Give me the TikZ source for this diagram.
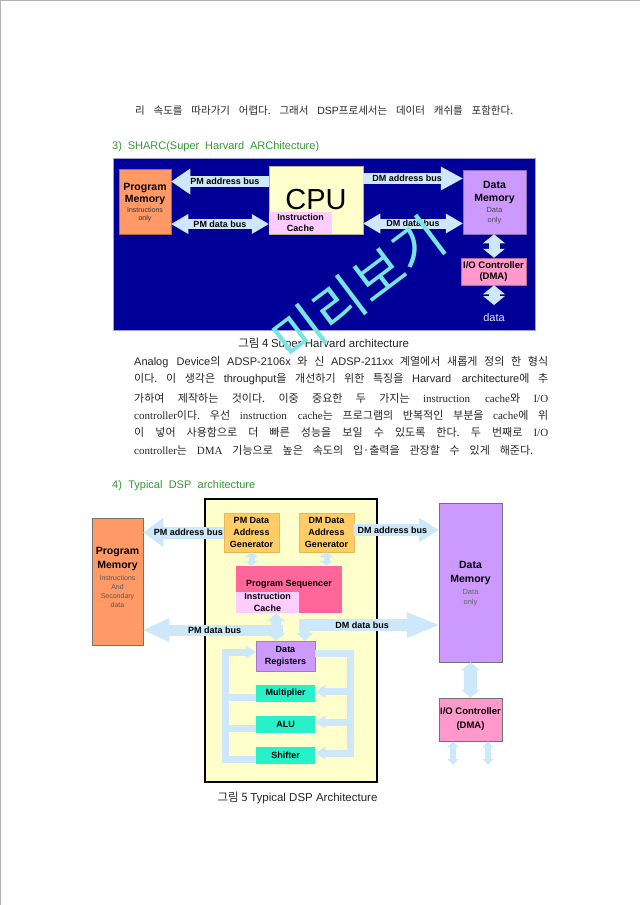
\documentclass[tikz,border=0pt]{standalone}
\usepackage{fontspec}
\setmainfont{Noto Sans CJK KR}
\setsansfont{Liberation Sans}
\newfontfamily\tms{Liberation Serif}
\usetikzlibrary{positioning, arrows.meta}

\definecolor{navy}{RGB}{0,0,153}
\definecolor{frameline}{RGB}{160,160,210}
\definecolor{memorange}{RGB}{255,153,102}
\definecolor{cpuyellow}{RGB}{255,255,204}
\definecolor{cachepink}{RGB}{255,204,255}
\definecolor{mempurple}{RGB}{204,153,255}
\definecolor{iopink}{RGB}{255,153,204}
\definecolor{busblue}{RGB}{204,232,250}
\definecolor{dagorange}{RGB}{255,204,102}
\definecolor{seqpink}{RGB}{255,102,153}
\definecolor{unitteal}{RGB}{40,240,200}
\definecolor{headgreen}{RGB}{51,153,51}
\definecolor{markcyan}{RGB}{120,228,228}
\definecolor{datawhite}{RGB}{225,225,255}

\newcommand{\fs}[2]{\fontsize{#1}{#2}\selectfont}
\newcommand{\jline}[2]{\makebox[#1pt][s]{#2}}
\newcommand{\la}[1]{{\sffamily #1}}

\tikzset{
  box/.style={draw=#1!70!black, line width=.5pt, fill=#1, inner sep=0pt, align=center,
    font=\sffamily\bfseries\fs{9}{12}},
  lbl/.style={inner sep=0pt, align=center, font=\sffamily\bfseries\fs{9}{12}},
  note/.style={inner sep=0pt, align=center, font=\sffamily\fs{7}{8}, text=black!75},
  body/.style={inner sep=0pt, anchor=west, font=\fs{11}{12}, text=black!85},
  sbus/.style n args={3}{draw=busblue, line width=#1,
    -{Triangle[length=#2,width=#3,line width=0pt]}},
  dbus/.style n args={3}{draw=busblue, line width=#1,
    {Triangle[length=#2,width=#3,line width=0pt]}-{Triangle[length=#2,width=#3,line width=0pt]}},
  ibus/.style={draw=busblue, line width=7pt},
  itip/.style={-{Triangle[length=10pt,width=13pt,line width=0pt]}}
}

\begin{document}
\frenchspacing
\begin{tikzpicture}[x=1pt, y=-1pt]
\useasboundingbox (0,0) rectangle (640,905);
\draw[gray!60, line width=1pt] (0.5,905) -- (0.5,0.5) -- (640,0.5);

\node[body, font=\fs{10.5}{12}] (l0) at (135,111) {\jline{378}{리 속도를 따라가기 어렵다. 그래서 \la{DSP}프로세서는 데이터 캐쉬를 포함한다.}};
\node[body, font=\sffamily\fs{11}{13}, text=headgreen] (h3) at (112,147) {\jline{207}{3) SHARC(Super Harvard ARChitecture)}};

% SHARC
\node[fill=navy, draw=frameline, line width=.8pt, minimum width=422pt, minimum height=172pt, inner sep=0pt] (sharc) at (324,244) {};
\node[box=memorange, minimum width=52pt, minimum height=65pt] (spm) at (145,201.5) {};
\node[lbl, font=\sffamily\bfseries\fs{10.5}{12.7}] (spmt) at (145,194) {Program\\Memory};
\node[note, text=black!80] (spmn) at (145,215) {Instructions\\only};
\node[box=cpuyellow, minimum width=94pt, minimum height=68pt, font=\sffamily\fs{29}{30}] (cpu) at (316,200) {CPU};
\node[box=cachepink, draw=none, minimum width=63pt, minimum height=22pt, font=\sffamily\bfseries\fs{9}{10.6}, anchor=south west] (sic) at (cpu.south west) {Instruction\\Cache};
\node[box=mempurple, minimum width=63pt, minimum height=64pt] (sdm) at (494.5,202) {};
\node[lbl, font=\sffamily\bfseries\fs{10.5}{12.7}] (sdmt) at (494.5,192.5) {Data\\Memory};
\node[note, font=\sffamily\fs{7.5}{9.5}, text=black!70] (sdmn) at (494.5,215.5) {Data\\only};
\node[box=iopink, minimum width=65pt, minimum height=27pt, font=\sffamily\bfseries\fs{9.5}{11.7}] (sio) at (493.5,271.5) {I/O Controller\\(DMA)};
\node[inner sep=0pt, font=\sffamily\fs{11}{12}, text=datawhite] (sdat) at (494,317.5) {data};

\coordinate (ya1) at (0,181.5);
\coordinate (yd1) at (0,224);
\coordinate (ya2) at (0,178.5);
\coordinate (yd2) at (0,223.5);
\coordinate (sdend) at (494,305);
\draw[sbus={11pt}{19pt}{26pt}] (cpu.west |- ya1) -- node[lbl, pos=.45] (pab) {PM address bus} (spm.east |- ya1);
\draw[dbus={10pt}{17pt}{20pt}] (spm.east |- yd1) -- node[lbl, pos=.5] (pdb) {PM data bus} (sic.west |- yd1);
\draw[sbus={11pt}{22pt}{24pt}] (cpu.east |- ya2) -- node[lbl, pos=.44] (dab) {DM address bus} (sdm.west |- ya2);
\draw[dbus={10pt}{17pt}{20pt}] (cpu.east |- yd2) -- node[lbl, pos=.5] (ddb) {DM data bus} (sdm.west |- yd2);
\draw[dbus={11pt}{9pt}{22pt}] (sdm.south -| sdend) -- (sio.north -| sdend);
\draw[dbus={11pt}{9pt}{22pt}] (sio.south -| sdend) -- (sdend);

\node[inner sep=0pt, font=\fs{11.5}{13}, text=black!85] (cap4) at (323.7,344) {그림 4 \la{Super Harvard architecture}};
\node[body] (p1) at (134,362.3) {\jline{414}{\la{Analog Device}의 \la{ADSP-2106x} 와 신 \la{ADSP-211xx} 계열에서 새롭게 정의 한 형식}};
\node[body] (p2) at (134,379.5) {\jline{414}{이다. 이 생각은 \la{throughput}을 개선하기 위한 특징을 \la{Harvard architecture}에 추}};
\node[body] (p3) at (134,398) {\jline{414}{가하여 제작하는 것이다. 이중 중요한 두 가지는 {\tms instruction cache}와 {\tms I/O}}};
\node[body] (p4) at (134,415.7) {\jline{414}{{\tms controller}이다. 우선 {\tms instruction cache}는 프로그램의 반복적인 부분을 {\tms cache}에 위}};
\node[body] (p5) at (134,432.7) {\jline{414}{이 넣어 사용함으로 더 빠른 성능을 보일 수 있도록 한다. 두 번째로 {\tms I/O}}};
\node[body] (p6) at (134,450.7) {\jline{399}{{\tms controller}는 {\tms DMA} 기능으로 높은 속도의 입·출력을 관장할 수 있게 해준다.}};

\node[body, font=\sffamily\fs{11}{13}, text=headgreen] (h4) at (112,486) {\jline{143}{4) Typical DSP architecture}};

% typical DSP
\node[box=memorange, draw=black!55, minimum width=51pt, minimum height=127pt] (dpm) at (117.5,581.5) {};
\node[lbl, font=\sffamily\bfseries\fs{10.5}{14}] (dpmt) at (117.5,559) {Program\\Memory};
\node[note, font=\sffamily\fs{7}{9}, text=black!65] (dpmn) at (117.5,591.5) {Instructions\\And\\Secondary\\data};
\node[fill=cpuyellow, draw=black, line width=1.6pt, minimum width=172pt, minimum height=283pt, inner sep=0pt] (dsp) at (291,640.5) {};
\node[box=dagorange, draw=dagorange!90!black, minimum width=55pt, minimum height=39pt] (pdag) at (251.5,532.5) {PM Data\\Address\\Generator};
\node[box=dagorange, draw=dagorange!90!black, minimum width=55pt, minimum height=39pt] (ddag) at (326.5,532.5) {DM Data\\Address\\Generator};
\node[box=seqpink, draw=none, minimum width=106pt, minimum height=47pt] (seq) at (289,589.5) {};
\node[lbl] (seqt) at (289,584) {Program Sequencer};
\node[box=cachepink, draw=none, minimum width=63pt, minimum height=21pt, anchor=south west] (dic) at (seq.south west) {Instruction\\Cache};
\node[box=mempurple, draw=mempurple!80!black, minimum width=59pt, minimum height=30pt] (dreg) at (285.5,656) {Data\\Registers};
\node[box=unitteal, draw=none, minimum width=59pt, minimum height=17pt] (mul) at (285.5,693.5) {Multiplier};
\node[box=unitteal, draw=none, minimum width=59pt, minimum height=17pt] (alu) at (285.5,724) {ALU};
\node[box=unitteal, draw=none, minimum width=59pt, minimum height=17pt] (shf) at (285.5,755) {Shifter};
\node[box=mempurple, draw=black!55, minimum width=63pt, minimum height=159pt] (ddm) at (470.5,582.5) {};
\node[lbl, font=\sffamily\bfseries\fs{10.5}{14.3}] (ddmt) at (470.5,573) {Data\\Memory};
\node[note, font=\sffamily\fs{7.5}{10.3}, text=black!60] (ddmn) at (470.5,598) {Data\\only};
\node[box=iopink, draw=black!55, minimum width=63pt, minimum height=43pt, font=\sffamily\bfseries\fs{9.5}{14}] (dio) at (470.5,719.5) {I/O Controller\\(DMA)};

\coordinate (ya3) at (0,532.5);
\coordinate (ya4) at (0,530);
\coordinate (pj) at (276,630);
\coordinate (pjr) at (283,630);
\coordinate (dj) at (305,625);
\draw[sbus={12pt}{20pt}{29pt}] (pdag.west |- ya3) -- node[lbl, pos=.44] (pab2) {PM address bus} (dpm.east |- ya3);
\draw[sbus={12pt}{20pt}{25pt}] (ddag.east |- ya4) -- node[lbl, pos=.45] (dab2) {DM address bus} (ddm.west |- ya4);
\draw[dbus={6pt}{5pt}{14pt}] (pdag.south) -- (pdag.south |- seq.north);
\draw[dbus={6pt}{5pt}{14pt}] (ddag.south) -- (ddag.south |- seq.north);
\draw[draw=busblue, line width=11pt, {Triangle[length=26pt,width=24pt,line width=0pt]}-] (dpm.east |- pj) -- node[lbl, pos=.51] (pdb2) {PM data bus} (pjr);
\draw[dbus={10pt}{8pt}{18pt}] (dic.south -| pj) -- (dreg.north -| pj);
\draw[sbus={12pt}{32pt}{26pt}] (dic.east |- dj) -- node[lbl, pos=.45] (ddb2) {DM data bus} (ddm.west |- dj);
\draw[sbus={10pt}{8pt}{17pt}] (dj) -- (dreg.north -| dj);

\coordinate (ltop) at (225,652);
\coordinate (rbot) at (350,753);
\coordinate (mulw) at ([yshift=-4pt]mul.west);
\coordinate (aluw) at ([yshift=-4pt]alu.west);
\coordinate (shfw) at ([yshift=-4pt]shf.west);
\coordinate (mule) at ([yshift=2pt]mul.east);
\coordinate (alue) at ([yshift=2pt]alu.east);
\coordinate (dregw) at ([yshift=4pt]dreg.west);
\coordinate (drege) at ([yshift=3pt]dreg.east);
\draw[ibus, itip] (shfw) -| (ltop) -- (dregw);
\draw[ibus] (mulw) -- (mulw -| ltop);
\draw[ibus] (aluw) -- (aluw -| ltop);
\draw[ibus, itip] (drege) -| (rbot) -- (rbot -| shf.east);
\draw[ibus, itip] (mule -| rbot) -- (mule);
\draw[ibus, itip] (alue -| rbot) -- (alue);

\coordinate (io1) at (453,765);
\coordinate (io2) at (488,765);
\draw[dbus={13pt}{8pt}{19pt}] (ddm.south) -- (dio.north);
\draw[dbus={6pt}{6pt}{11pt}] (dio.south -| io1) -- (io1);
\draw[dbus={6pt}{6pt}{11pt}] (dio.south -| io2) -- (io2);

\node[inner sep=0pt, font=\fs{11.5}{13}, text=black!85] (cap5) at (297.5,798) {그림 5 \la{Typical DSP Architecture}};

\node[inner sep=0pt, rotate=37, text=markcyan, font=\fs{54}{60}] (mark) at (359,289) {미리보기};
\end{tikzpicture}
\end{document}
